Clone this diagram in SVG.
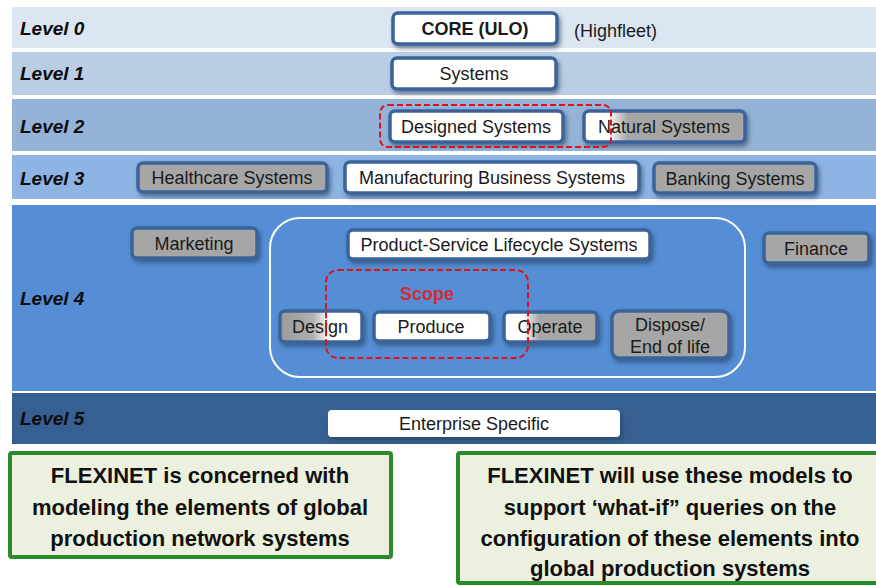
<svg xmlns="http://www.w3.org/2000/svg" width="876" height="586" viewBox="0 0 876 586">
<defs>
<style>
.lvl{font-family:"Liberation Sans",Arial,sans-serif;font-weight:bold;font-style:italic;font-size:19px;fill:#0d0d0d}
.nt{font-family:"Liberation Sans",Arial,sans-serif;font-size:18px;fill:#1a1a1a;text-anchor:middle}
.nb{stroke:#3b6499;stroke-width:3.5}
.w{fill:#ffffff}
.g{fill:#a6a6a6}
.gt{font-family:"Liberation Sans",Arial,sans-serif;font-weight:bold;font-size:22px;fill:#111;text-anchor:middle}
.dash{fill:none;stroke:#e3101c;stroke-width:2;stroke-dasharray:6 3}
.note{fill:#ebf1de;stroke:#2b8a2b;stroke-width:4}
</style>
<filter id="sh" x="-10%" y="-20%" width="125%" height="160%">
<feDropShadow dx="2" dy="3" stdDeviation="2" flood-color="#1f3550" flood-opacity="0.55"/>
</filter>
<linearGradient id="gNat" x1="0" y1="0" x2="1" y2="0">
<stop offset="0" stop-color="#ffffff"/><stop offset="0.15" stop-color="#ffffff"/><stop offset="0.27" stop-color="#a6a6a6"/><stop offset="1" stop-color="#a6a6a6"/>
</linearGradient>
<linearGradient id="gDes" x1="0" y1="0" x2="1" y2="0">
<stop offset="0" stop-color="#9a9a9a"/><stop offset="0.4" stop-color="#b0b0b0"/><stop offset="0.6" stop-color="#ffffff"/><stop offset="1" stop-color="#ffffff"/>
</linearGradient>
<linearGradient id="gOp" x1="0" y1="0" x2="1" y2="0">
<stop offset="0" stop-color="#ffffff"/><stop offset="0.2" stop-color="#ffffff"/><stop offset="0.38" stop-color="#a6a6a6"/><stop offset="1" stop-color="#a6a6a6"/>
</linearGradient>
</defs>
<rect width="876" height="586" fill="#ffffff"/>
<g id="bands">
<rect x="12" y="7" width="864" height="41" fill="#dce6f2"/>
<rect x="12" y="52" width="864" height="43" fill="#b9cde5"/>
<rect x="12" y="99" width="864" height="52" fill="#95b3d7"/>
<rect x="12" y="155" width="864" height="44" fill="#8eb4e3"/>
<rect x="12" y="205" width="864" height="186" fill="#558ed5"/>
<rect x="12" y="393" width="864" height="51" fill="#376092"/>
<text class="lvl" x="20" y="35">Level 0</text>
<text class="lvl" x="20" y="80">Level 1</text>
<text class="lvl" x="20" y="133">Level 2</text>
<text class="lvl" x="20" y="185">Level 3</text>
<text class="lvl" x="20" y="305">Level 4</text>
<text class="lvl" x="20" y="425">Level 5</text>
</g>
<g id="lifecycle-frame">
<rect x="270" y="218" width="475" height="159" rx="30" fill="none" stroke="#ffffff" stroke-width="2"/>
</g>
<g id="core">
<rect class="w nb" x="393" y="13" width="164" height="31" rx="5" filter="url(#sh)"/>
<text class="nt" x="475" y="35" font-weight="bold" font-size="17">CORE (ULO)</text>
</g>
<g id="highfleet">
<text class="nt" x="574" y="37" style="text-anchor:start">(Highfleet)</text>
</g>
<g id="systems">
<rect class="w nb" x="392" y="58" width="164" height="31" rx="5" filter="url(#sh)"/>
<text class="nt" x="474" y="80">Systems</text>
</g>
<g id="designed">
<rect class="w nb" x="390" y="111" width="173" height="31" rx="5" filter="url(#sh)"/>
<text class="nt" x="476" y="133">Designed Systems</text>
</g>
<g id="natural">
<rect class="nb" fill="url(#gNat)" x="584" y="111" width="161" height="31" rx="5" filter="url(#sh)"/>
<text class="nt" x="664" y="133">Natural Systems</text>
</g>
<g id="healthcare">
<rect class="g nb" x="138" y="163" width="189" height="29" rx="5" filter="url(#sh)"/>
<text class="nt" x="232" y="184">Healthcare Systems</text>
</g>
<g id="manufacturing">
<rect class="w nb" x="345" y="162" width="294" height="31" rx="5" filter="url(#sh)"/>
<text class="nt" x="492" y="184">Manufacturing Business Systems</text>
</g>
<g id="banking">
<rect class="g nb" x="654" y="163" width="162" height="30" rx="5" filter="url(#sh)"/>
<text class="nt" x="735" y="185">Banking Systems</text>
</g>
<g id="marketing">
<rect class="g nb" x="132" y="228" width="125" height="30" rx="5" filter="url(#sh)"/>
<text class="nt" x="194" y="250">Marketing</text>
</g>
<g id="pslc">
<rect class="w nb" x="348" y="230" width="302" height="29" rx="5" filter="url(#sh)"/>
<text class="nt" x="499" y="251">Product-Service Lifecycle Systems</text>
</g>
<g id="finance">
<rect class="g nb" x="764" y="233" width="105" height="30" rx="5" filter="url(#sh)"/>
<text class="nt" x="816" y="255">Finance</text>
</g>
<g id="design">
<rect class="nb" fill="url(#gDes)" x="280" y="311" width="82" height="31" rx="5" filter="url(#sh)"/>
<text class="nt" x="320" y="333">Design</text>
</g>
<g id="produce">
<rect class="w nb" x="374" y="312" width="116" height="29" rx="5" filter="url(#sh)"/>
<text class="nt" x="431" y="333">Produce</text>
</g>
<g id="operate">
<rect class="nb" fill="url(#gOp)" x="504" y="312" width="93" height="30" rx="5" filter="url(#sh)"/>
<text class="nt" x="550" y="333">Operate</text>
</g>
<g id="dispose">
<rect class="g nb" x="612" y="311" width="117" height="47" rx="7" filter="url(#sh)"/>
<text class="nt" x="670" y="331">Dispose/</text>
<text class="nt" x="670" y="353">End of life</text>
</g>
<g id="enterprise">
<rect class="w" x="328" y="410" width="292" height="27" rx="4" filter="url(#sh)"/>
<text class="nt" x="474" y="430">Enterprise Specific</text>
</g>
<g id="scope-markers">
<rect class="dash" x="380" y="105" width="231" height="42" rx="8"/>
<rect class="dash" x="326" y="270" width="202" height="88" rx="12"/>
<text x="427" y="300" font-family="'Liberation Sans',Arial,sans-serif" font-weight="bold" font-size="18" fill="#d42a33" text-anchor="middle">Scope</text>
</g>
<g id="note-left">
<rect class="note" x="10" y="453" width="381" height="104" rx="2"/>
<text class="gt" x="200" y="483">FLEXINET is concerned with</text>
<text class="gt" x="200" y="515">modeling the elements of global</text>
<text class="gt" x="200" y="546">production network systems</text>
</g>
<g id="note-right">
<rect class="note" x="458" y="453" width="425" height="130" rx="2"/>
<text class="gt" x="670" y="483">FLEXINET will use these models to</text>
<text class="gt" x="670" y="515">support ‘what-if” queries on the</text>
<text class="gt" x="670" y="546">configuration of these elements into</text>
<text class="gt" x="670" y="576">global production systems</text>
</g>
<g id="connectors"></g>
</svg>
